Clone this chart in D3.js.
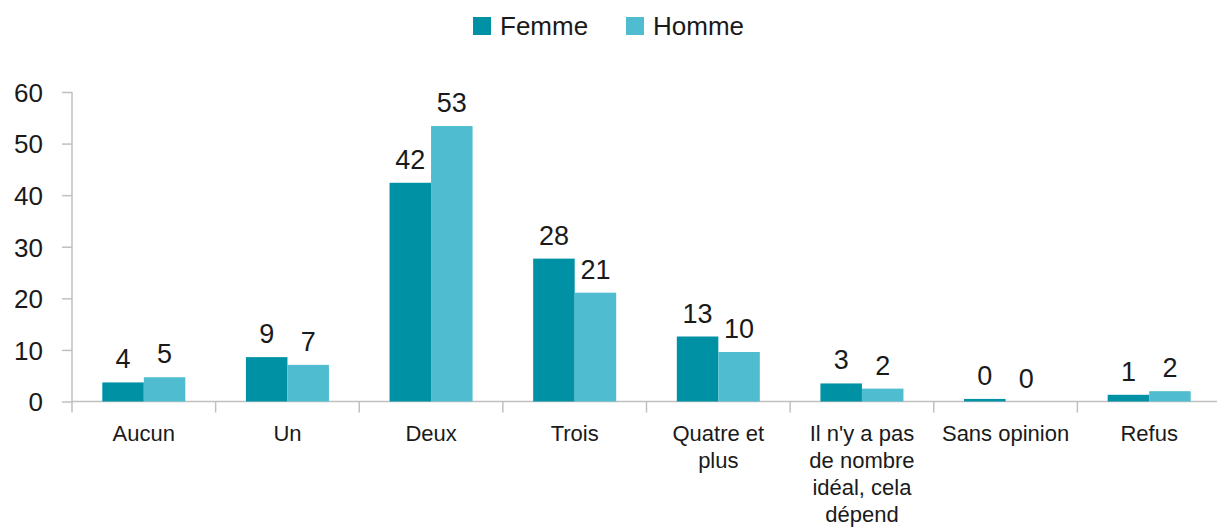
<!DOCTYPE html>
<html>

<head>
	<meta charset="utf-8">
	<script src="https://cdn.jsdelivr.net/npm/d3@7"></script>
	<style>
		body {
			margin: 0;
			background: white;
		}

		text {
			font-family: "Liberation Sans", Arial, sans-serif;
			fill: #1a1a1a;
		}
	</style>
</head>

<body>
	<svg></svg>
	<script>
		var width = 1217;
		var height = 528;

		// data
		var categories = ["Aucun", "Un", "Deux", "Trois", "Quatre et plus",
			"Il n'y a pas de nombre idéal, cela dépend", "Sans opinion", "Refus"];
		var catLines = [["Aucun"], ["Un"], ["Deux"], ["Trois"], ["Quatre et", "plus"],
			["Il n'y a pas", "de nombre", "idéal, cela", "dépend"], ["Sans opinion"], ["Refus"]];
		var series = ["Femme", "Homme"];
		var femme = [3.7, 8.6, 42.4, 27.7, 12.6, 3.5, 0.5, 1.3];
		var homme = [4.7, 7.1, 53.4, 21.1, 9.6, 2.5, 0.0, 2.0];
		var femmeLabels = ["4", "9", "42", "28", "13", "3", "0", "1"];
		var hommeLabels = ["5", "7", "53", "21", "10", "2", "0", "2"];
		var yTicks = [0, 10, 20, 30, 40, 50, 60];

		var colors = { "Femme": "#0091a5", "Homme": "#4fbdcf" };

		var svg = d3.select("svg")
			.attr("width", width)
			.attr("height", height);

		var left = 72;
		var x0 = d3.scaleBand()
			.domain(categories)
			.range([left, 1221])
			.padding(0);
		var x1 = d3.scaleBand()
			.domain(series)
			.range([0, x0.bandwidth()])
			.paddingInner(0)
			.paddingOuter(0.73);
		var y = d3.scaleLinear()
			.domain([0, 60])
			.range([401.5, 92]);

		// y axis
		var yAxis = d3.axisLeft(y)
			.tickValues(yTicks)
			.tickSize(10)
			.tickPadding(19);
		var gy = svg.append("g")
			.attr("transform", "translate(" + left + ",0)")
			.call(yAxis);
		gy.select(".domain").remove();
		gy.selectAll("line").attr("stroke", "#c0c0c0").attr("stroke-width", 1.5);
		gy.selectAll("text")
			.style("font-size", "26px")
			.attr("fill", "#1a1a1a")
			.attr("dy", "0.36em");
		svg.append("line")
			.attr("x1", left).attr("x2", left)
			.attr("y1", y(60)).attr("y2", y(0) + 11)
			.attr("stroke", "#c0c0c0").attr("stroke-width", 1.5);

		// x axis baseline and category ticks
		svg.append("line")
			.attr("x1", left).attr("x2", width)
			.attr("y1", y(0)).attr("y2", y(0))
			.attr("stroke", "#c0c0c0").attr("stroke-width", 1.5);
		svg.selectAll(".ctick")
			.data(categories.slice(1))
			.enter()
			.append("line")
			.attr("x1", d => x0(d)).attr("x2", d => x0(d))
			.attr("y1", y(0)).attr("y2", y(0) + 11)
			.attr("stroke", "#c0c0c0").attr("stroke-width", 1.5);

		// bars
		var rows = categories.map((c, i) => ({
			cat: c,
			vals: [
				{ s: "Femme", v: femme[i], label: femmeLabels[i] },
				{ s: "Homme", v: homme[i], label: hommeLabels[i] }
			]
		}));

		var groups = svg.selectAll(".grp")
			.data(rows)
			.enter()
			.append("g")
			.attr("class", "grp")
			.attr("transform", d => "translate(" + x0(d.cat) + ",0)");

		groups.selectAll("rect")
			.data(d => d.vals)
			.enter()
			.append("rect")
			.attr("x", d => x1(d.s))
			.attr("width", x1.bandwidth())
			.attr("y", d => y(d.v))
			.attr("height", d => y(0) - y(d.v))
			.attr("fill", d => colors[d.s]);

		groups.selectAll(".lbl")
			.data(d => d.vals)
			.enter()
			.append("text")
			.attr("class", "lbl")
			.attr("x", d => x1(d.s) + x1.bandwidth() / 2)
			.attr("y", d => y(d.v) - 14)
			.attr("text-anchor", "middle")
			.style("font-size", "27px")
			.text(d => d.label);

		// category labels
		categories.forEach((c, i) => {
			var t = svg.append("text")
				.attr("x", x0(c) + x0.bandwidth() / 2)
				.attr("y", 441)
				.attr("text-anchor", "middle")
				.style("font-size", "22px");
			catLines[i].forEach((line, j) => {
				t.append("tspan")
					.attr("x", x0(c) + x0.bandwidth() / 2)
					.attr("dy", j == 0 ? 0 : 27)
					.text(line);
			});
		});

		// legend
		var legendX = [473, 626];
		series.forEach((s, i) => {
			svg.append("rect")
				.attr("x", legendX[i]).attr("y", 17)
				.attr("width", 18).attr("height", 18)
				.attr("fill", colors[s]);
			svg.append("text")
				.attr("x", legendX[i] + 27).attr("y", 35)
				.style("font-size", "26px")
				.text(s);
		});
	</script>
</body>

</html>
